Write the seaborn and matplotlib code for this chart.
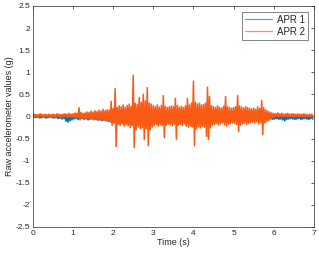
import numpy as np
import pandas as pd
import seaborn as sns
import matplotlib
matplotlib.use("Agg")
import matplotlib.pyplot as plt

# =========================================================
# DATA (per 0.05 s bin: upper and lower excursion)
# =========================================================

bin_width = 0.05
labels = ["APR 1", "APR 2"]
colors = ["#0072BD", "#FA5A14"]
legend_colors = ["#4FA6E0", "#FC8F60"]

apr1_hi = [
    0.02, 0.03, 0.02, 0.03, 0.02, 0.03, 0.02, 0.03, 0.04, 0.02,
    0.03, 0.02, 0.03, 0.02, 0.03, 0.04, 0.01, 0.00, 0.02, 0.03,
    0.03, 0.02, 0.04, 0.06, 0.03, 0.04, 0.05, 0.04, 0.05, 0.06,
    0.05, 0.06, 0.07, 0.06, 0.08, 0.07, 0.08, 0.09, 0.10, 0.12,
    0.12, 0.15, 0.13, 0.14, 0.12, 0.15, 0.13, 0.14, 0.16, 0.14,
    0.18, 0.16, 0.15, 0.17, 0.16, 0.18, 0.17, 0.16, 0.18, 0.15,
    0.14, 0.13, 0.15, 0.12, 0.14, 0.16, 0.13, 0.12, 0.14, 0.13,
    0.12, 0.14, 0.13, 0.12, 0.11, 0.12, 0.13, 0.12, 0.14, 0.15,
    0.18, 0.16, 0.15, 0.17, 0.14, 0.15, 0.16, 0.17, 0.15, 0.13,
    0.12, 0.11, 0.13, 0.12, 0.10, 0.12, 0.13, 0.11, 0.10, 0.09,
    0.10, 0.11, 0.12, 0.10, 0.09, 0.08, 0.10, 0.09, 0.08, 0.07,
    0.06, 0.05, 0.07, 0.05, 0.06, 0.04, 0.03, 0.02, 0.03, 0.02,
    0.01, 0.02, 0.01, 0.00, 0.01, 0.02, 0.01, 0.00, 0.01, 0.00,
    0.01, 0.00, 0.01, 0.02, 0.00, 0.01, 0.00, 0.01, 0.00, 0.01,
]
apr1_lo = [
    -0.02, -0.03, -0.02, -0.04, -0.03, -0.02, -0.04, -0.03, -0.02, -0.03,
    -0.04, -0.03, -0.05, -0.04, -0.06, -0.05, -0.11, -0.13, -0.10, -0.08,
    -0.06, -0.05, -0.07, -0.06, -0.05, -0.07, -0.06, -0.08, -0.07, -0.06,
    -0.08, -0.07, -0.09, -0.08, -0.10, -0.09, -0.10, -0.11, -0.12, -0.14,
    -0.14, -0.16, -0.15, -0.17, -0.15, -0.18, -0.16, -0.17, -0.19, -0.16,
    -0.20, -0.18, -0.17, -0.19, -0.18, -0.20, -0.19, -0.21, -0.18, -0.17,
    -0.16, -0.15, -0.17, -0.14, -0.16, -0.18, -0.15, -0.14, -0.16, -0.15,
    -0.14, -0.16, -0.15, -0.14, -0.13, -0.15, -0.22, -0.14, -0.16, -0.17,
    -0.20, -0.18, -0.17, -0.19, -0.16, -0.17, -0.18, -0.19, -0.17, -0.15,
    -0.14, -0.13, -0.15, -0.14, -0.12, -0.14, -0.15, -0.13, -0.12, -0.11,
    -0.12, -0.13, -0.14, -0.12, -0.11, -0.10, -0.12, -0.11, -0.10, -0.09,
    -0.08, -0.07, -0.09, -0.07, -0.08, -0.06, -0.09, -0.07, -0.06, -0.07,
    -0.06, -0.05, -0.07, -0.06, -0.08, -0.10, -0.07, -0.06, -0.05, -0.06,
    -0.07, -0.06, -0.05, -0.07, -0.06, -0.05, -0.06, -0.07, -0.05, -0.06,
]

apr2_hi = [
    0.04, 0.05, 0.04, 0.05, 0.06, 0.04, 0.05, 0.04, 0.05, 0.04,
    0.05, 0.04, 0.06, 0.05, 0.04, 0.05, 0.06, 0.05, 0.07, 0.05,
    0.06, 0.08, 0.07, 0.20, 0.09, 0.07, 0.08, 0.10, 0.09, 0.12,
    0.10, 0.13, 0.11, 0.14, 0.12, 0.16, 0.13, 0.15, 0.14, 0.34,
    0.18, 0.63, 0.20, 0.24, 0.22, 0.26, 0.21, 0.25, 0.28, 0.23,
    0.93, 0.30, 0.27, 0.43, 0.32, 0.50, 0.35, 0.65, 0.30, 0.28,
    0.24, 0.22, 0.26, 0.21, 0.25, 0.47, 0.23, 0.20, 0.22, 0.24,
    0.22, 0.41, 0.25, 0.21, 0.23, 0.20, 0.24, 0.41, 0.26, 0.30,
    0.80, 0.32, 0.28, 0.30, 0.26, 0.27, 0.30, 0.66, 0.45, 0.24,
    0.22, 0.20, 0.24, 0.21, 0.19, 0.23, 0.45, 0.22, 0.20, 0.18,
    0.20, 0.22, 0.47, 0.24, 0.21, 0.19, 0.22, 0.20, 0.18, 0.17,
    0.19, 0.16, 0.22, 0.18, 0.36, 0.20, 0.15, 0.12, 0.10, 0.08,
    0.07, 0.06, 0.08, 0.06, 0.07, 0.05, 0.06, 0.07, 0.05, 0.06,
    0.06, 0.05, 0.06, 0.05, 0.05, 0.06, 0.05, 0.04, 0.05, 0.05,
]
apr2_lo = [
    -0.01, 0.00, -0.01, 0.00, -0.01, -0.02, 0.00, -0.01, 0.00, -0.01,
    -0.01, -0.02, 0.00, -0.01, -0.02, -0.01, 0.00, -0.02, -0.01, -0.02,
    -0.02, -0.03, -0.02, -0.08, -0.03, -0.04, -0.05, -0.04, -0.06, -0.05,
    -0.06, -0.07, -0.06, -0.08, -0.07, -0.09, -0.08, -0.10, -0.12, -0.20,
    -0.15, -0.68, -0.18, -0.20, -0.17, -0.22, -0.19, -0.21, -0.25, -0.20,
    -0.70, -0.30, -0.24, -0.28, -0.26, -0.52, -0.28, -0.66, -0.30, -0.24,
    -0.20, -0.18, -0.22, -0.19, -0.21, -0.48, -0.20, -0.17, -0.19, -0.21,
    -0.18, -0.52, -0.20, -0.18, -0.21, -0.17, -0.20, -0.25, -0.22, -0.24,
    -0.66, -0.28, -0.24, -0.26, -0.22, -0.24, -0.45, -0.52, -0.26, -0.20,
    -0.18, -0.16, -0.20, -0.17, -0.15, -0.19, -0.22, -0.18, -0.16, -0.15,
    -0.16, -0.18, -0.34, -0.20, -0.17, -0.15, -0.18, -0.16, -0.14, -0.13,
    -0.15, -0.12, -0.17, -0.14, -0.41, -0.15, -0.12, -0.09, -0.05, -0.03,
    -0.01, 0.00, -0.01, 0.00, -0.01, 0.00, -0.01, 0.00, -0.01, 0.00,
    -0.01, 0.00, -0.01, 0.00, 0.00, -0.01, 0.00, -0.01, 0.00, -0.01,
]

x_ticks = [0, 1, 2, 3, 4, 5, 6, 7]
y_ticks = [-2.5, -2, -1.5, -1, -0.5, 0, 0.5, 1, 1.5, 2, 2.5]

# =========================================================
# BUILD LONG TABLE (zig-zag between upper and lower excursion)
# =========================================================

def trace(hi, lo, name):
    t = np.arange(len(hi)) * bin_width
    times = np.column_stack([t, t + bin_width / 2]).ravel()
    vals = np.column_stack([hi, lo]).ravel()
    return pd.DataFrame({"Time": times, "Value": vals, "Sensor": name})

df = pd.concat([trace(apr1_hi, apr1_lo, labels[0]),
                trace(apr2_hi, apr2_lo, labels[1])], ignore_index=True)

# =========================================================
# PLOT
# =========================================================

sns.set_style("white", {"xtick.direction": "in", "ytick.direction": "in"})
plt.rcParams["font.family"] = ["Liberation Sans", "DejaVu Sans"]

fig = plt.figure(figsize=(3.19, 2.57), dpi=100)
ax = fig.add_axes([0.103, 0.117, 0.881, 0.860])

sns.lineplot(data=df, x="Time", y="Value", hue="Sensor", palette=colors,
             estimator=None, sort=False, linewidth=1.1, ax=ax, legend=False)

ax.set_xlim(0, 7)
ax.set_ylim(-2.5, 2.5)
ax.set_xticks(x_ticks)
ax.set_yticks(y_ticks)
ax.set_yticklabels([f"{v:g}" for v in y_ticks])
ax.tick_params(labelsize=6, length=2.5, width=0.5, color="#262626",
               labelcolor="#262626", top=True, right=True, pad=2)
for s in ax.spines.values():
    s.set_color("#262626")
    s.set_linewidth(0.5)

ax.set_xlabel("Time (s)", fontsize=6.5, color="#262626", labelpad=1)
ax.set_ylabel("Raw accelerometer values (g)", fontsize=6.5, color="#262626",
              labelpad=1)

handles = [plt.Line2D([], [], color=c, linewidth=0.9) for c in legend_colors]
leg = ax.legend(handles, labels, loc="upper right", fontsize=7, frameon=True,
                fancybox=False, borderpad=0.3, handlelength=2.8,
                handletextpad=0.5, labelspacing=0.2, borderaxespad=0.6)
leg.get_frame().set_edgecolor("#262626")
leg.get_frame().set_linewidth(0.5)

fig.savefig("out.png", dpi=100)
